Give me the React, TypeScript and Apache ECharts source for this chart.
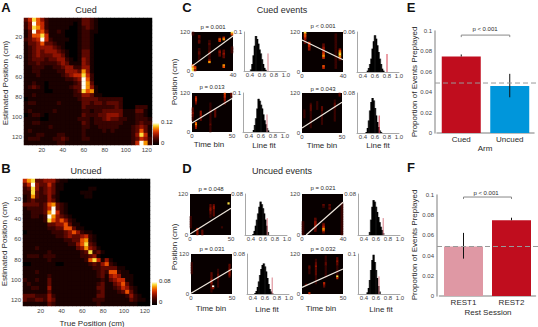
import React, { useEffect, useRef } from "react";
import * as echarts from "echarts";

const FONT = '"Liberation Sans", Arial, sans-serif';
const HOT = ["#000000", "#1a0100", "#380300", "#5e0800", "#901200", "#c22600", "#e84e00", "#f59000", "#fbdc40", "#fffff0"];

// heatmap rows: one digit (0..9 of the colour scale) per 4 cm bin
const binLabels = ["4","8","12","16","20","24","28","32","36","40","44","48","52","56","60","64","68","72","76","80","84","88","92","96","100","104","108","112","116","120","124"];
const rowLabels = [...binLabels, "128"];

const cuedMatrix = [
  "3586421111111133210000000000000",
  "2496521111110133210000000000000",
  "2487521111100123210000000000000",
  "1395631121000122110000000000000",
  "1366851111000122100000000000000",
  "2345952111100122100000000000000",
  "1334633211000122100000000000000",
  "1234444321000122100000000000000",
  "1234344432100133100000000000000",
  "1234333443100133100000000000000",
  "1233323344210143100000000000000",
  "1223222234311143100000000000000",
  "1122211223442244100000000000000",
  "1122111122444374100000000000000",
  "1112111112345585200000000000000",
  "1111111111223496200000000000000",
  "1121101111112397300000000000000",
  "1232101111123397410000000000000",
  "1111100111112386710000000000000",
  "1121111111112244311000000000000",
  "0111111111111233332222220000000",
  "1221111121111133233233320000000",
  "1111111111111132222222320002220",
  "1211111211111122122333331113310",
  "0122101111111132223344431112210",
  "1111001111111222122343322112221",
  "1122111111111132122222221112322",
  "1111112111111122112222211123431",
  "1211111111111121111212111123631",
  "1112211122111121111111111124851",
  "1222111223211122111111111123542",
  "1111111122111111111111111125972",
];

const uncuedMatrix = [
  "5783344421100000000000000000000",
  "3594335311000000000000000000000",
  "2384234311000000110000000000000",
  "2283234310000011100000000000000",
  "1273224210000001100000000000000",
  "1232224310000000000000000000000",
  "3333236732100000000000000000000",
  "1222235932100000000000000000000",
  "1122237952100000000000000000000",
  "1122129743210000000000000000000",
  "1111128646421000000000000000000",
  "1111113344631100000000000000000",
  "1111112233663110000000000000000",
  "0111111222346421100000000000000",
  "1111111122343345210000000000000",
  "1111111111223367210000000000000",
  "1111111111122468320000000000000",
  "1112111111111347431000000000000",
  "1111112111111123823100000000000",
  "1222122211111122341000000000000",
  "1111112111111112685141000000000",
  "0011111100111111232462100000000",
  "1111111111111111122333311000000",
  "1112111111111111112326621100000",
  "1111112111111111112314541110000",
  "2112113111111111111213455110000",
  "1211113111111111112311346310000",
  "1122114111111111113311235421000",
  "1111113111111111112311123631000",
  "3332224211111111113311111242100",
  "3223324311111111122211111132110",
  "1111113211111111112111111111000",
];

// raster panels: [time-bin column, first row from the top, one digit per row]
type Streak = [number, number, string];
const rasterC1: Streak[] = [[0,0,"22"],[0,20,"6788"],[1,21,"564"],[3,2,"33233"],[3,10,"22332222"],[8,5,"2232222332224"],[8,18,"7"],[13,3,"265"],[13,11,"3433"],[15,3,"57"],[15,11,"33433"],[15,20,"76"],[19,0,"86"],[19,9,"2222"]];
const rasterC2: Streak[] = [[0,9,"33343322"],[2,2,"45543"],[2,18,"6754"],[5,11,"444333"],[11,6,"222223222222232222"],[14,10,"33333"],[20,0,"6554433"],[24,0,"332"]];
const rasterC3: Streak[] = [[1,0,"8665433"],[3,6,"55544"],[10,7,"334445675"],[10,20,"65"],[16,1,"222222222222222222222"],[18,10,"4678763"]];
const rasterC4: Streak[] = [[1,10,"22222"],[5,6,"233332222222222"],[9,5,"22222"],[12,8,"33322222222"],[20,4,"2233322222222"],[23,0,"33"]];
const rasterD1: Streak[] = [[0,13,"2222222"],[4,20,"5444"],[7,21,"333"],[12,6,"33443322"],[14,6,"3443333"],[19,19,"2"],[23,5,"8"]];
const rasterD2: Streak[] = [[0,5,"2222222"],[12,11,"333344433322"],[13,19,"94"],[16,9,"22233322222"],[23,6,"33344443"]];
const rasterD3: Streak[] = [[0,16,"22222222"],[6,14,"33444433"],[10,6,"32"],[10,17,"345763"],[13,6,"323"],[19,5,"2222222222222222222"]];
const rasterD4: Streak[] = [[2,18,"3"],[4,7,"33222"],[4,23,"5"],[8,3,"223343333322222"],[13,17,"543"],[14,1,"2222332222222"],[21,2,"33433222222"],[21,13,"85"]];

// histogram bins along "Line fit" and the height of each panel's bars
const fitBins = [0.4,0.42,0.44,0.46,0.48,0.5,0.52,0.54,0.56,0.58,0.6,0.62,0.64,0.66,0.68,0.7,0.72,0.74];
const histC1 = [0,.004,.018,.04,.065,.09,.082,.07,.055,.045,.03,.018,.008,.003,0,0,0,0];
const histC2 = [0,0,0,0,.005,.018,.035,.06,.085,.08,.07,.06,.045,.03,.02,.01,.004,0];
const histC3 = [0,0,0,0,.002,.006,.012,.02,.035,.046,.055,.05,.04,.03,.02,.012,.005,.002];
const histC4 = [0,0,0,.002,.01,.025,.045,.062,.07,.065,.05,.035,.022,.012,.005,.002,0,0];
const histD1 = [0,0,.002,.008,.018,.03,.042,.055,.065,.06,.052,.042,.03,.018,.006,0,0,0];
const histD2 = [0,0,.002,.006,.014,.025,.038,.05,.058,.061,.055,.045,.032,.02,.01,.005,.002,0];
const histD3 = [0,0,0,0,0,.006,.03,.055,.068,.065,.055,.045,.035,.025,.016,.01,.004,0];
const histD4 = [0,0,0,.004,.015,.035,.06,.085,.098,.08,.06,.04,.02,.006,0,0,0,0];

const armCategories = ["Cued", "Uncued"];
const armValues = [0.075, 0.046];
const armErrors = [[0.075, 0.077], [0.035, 0.058]];
const sessionCategories = ["REST1", "REST2"];
const sessionValues = [0.049, 0.075];
const sessionErrors = [[0.037, 0.0625], [0.075, 0.0775]];
const chanceLevel = 0.049;

type Rect = { left: number; top: number; width: number; height: number };
type Panel = {
  rect: Rect; bins: number; streaks: Streak[]; fit: [[number, number], [number, number]]; p: string; pAt: [number, number];
  histLeft: number; hist: number[]; yMax: number; red: [number, number]; redColor: string;
};

const panels: Panel[] = [
  { rect: { left: 192, top: 32, width: 41, height: 39 }, bins: 40, streaks: rasterC1, fit: [[0, 15], [40, 108]], p: "p = 0.001", pAt: [213, 27], histLeft: 244, hist: histC1, yMax: 0.1, red: [0.7, 0.045], redColor: "#d9808a" },
  { rect: { left: 192, top: 93, width: 40, height: 39 }, bins: 50, streaks: rasterC2, fit: [[0, 28], [50, 103]], p: "p = 0.013", pAt: [212, 87], histLeft: 243, hist: histC2, yMax: 0.1, red: [0.7, 0.045], redColor: "#d9808a" },
  { rect: { left: 302, top: 32, width: 41, height: 40 }, bins: 40, streaks: rasterC3, fit: [[0, 96], [40, 37]], p: "p < 0.001", pAt: [323, 26], histLeft: 357, hist: histC3, yMax: 0.06, red: [0.8, 0.027], redColor: "#d84050" },
  { rect: { left: 302, top: 93, width: 40, height: 40 }, bins: 50, streaks: rasterC4, fit: [[0, 15], [50, 92]], p: "p = 0.043", pAt: [323, 89], histLeft: 357, hist: histC4, yMax: 0.08, red: [0.67, 0.035], redColor: "#d84050" },
  { rect: { left: 190, top: 194, width: 41, height: 41 }, bins: 50, streaks: rasterD1, fit: [[0, 3], [50, 78]], p: "p = 0.048", pAt: [211, 189], histLeft: 245, hist: histD1, yMax: 0.08, red: [0.67, 0.033], redColor: "#d9808a" },
  { rect: { left: 191, top: 254, width: 41, height: 40 }, bins: 50, streaks: rasterD2, fit: [[0, 2], [50, 75]], p: "p = 0.031", pAt: [212, 249], histLeft: 247, hist: histD2, yMax: 0.08, red: [0.72, 0.033], redColor: "#d9808a" },
  { rect: { left: 302, top: 194, width: 41, height: 41 }, bins: 40, streaks: rasterD3, fit: [[4, 0], [40, 96]], p: "p = 0.021", pAt: [323, 188], histLeft: 358, hist: histD3, yMax: 0.08, red: [0.72, 0.033], redColor: "#d9808a" },
  { rect: { left: 302, top: 254, width: 41, height: 40 }, bins: 50, streaks: rasterD4, fit: [[0, 20], [50, 75]], p: "p = 0.032", pAt: [323, 249], histLeft: 358, hist: histD4, yMax: 0.1, red: [0.65, 0.044], redColor: "#d9808a" },
];

const textColor = "#2a2a2a";
const tickColor = "#444";
const axisGray = "#a8a8a8";

function label(text: string, x: number, y: number, size: number, extra: any = {}) {
  return {
    type: "text", x, y, rotation: extra.rotation ?? 0, silent: true,
    style: { text, fontFamily: FONT, fontSize: size, fontWeight: extra.bold ? "bold" : "normal", fill: extra.fill ?? textColor, align: extra.align ?? "center", verticalAlign: "middle" },
  };
}

function buildOption() {
  const grid: any[] = [];
  const xAxis: any[] = [];
  const yAxis: any[] = [];
  const series: any[] = [];
  const heatmapIndexes: number[] = [];
  const tickStyle = { fontFamily: FONT, fontSize: 6, color: tickColor, margin: 2 };

  const addCell = (rect: Rect, xa: any, ya: any, bg?: string) => {
    const i = grid.length;
    grid.push({ ...rect, show: !!bg, backgroundColor: bg ?? "transparent", borderWidth: 0, containLabel: false });
    xAxis.push({ gridIndex: i, ...xa });
    yAxis.push({ gridIndex: i, ...ya });
    return i;
  };
  const hidden = { show: false };
  const bareLine = { axisLine: { show: false }, axisTick: { show: false }, splitLine: { show: false } };

  // main heatmaps
  const main = (rect: Rect, matrix: string[], xr: [number, number], yr: [number, number]) => {
    const hg = addCell(rect, { type: "category", data: binLabels, ...hidden }, { type: "category", data: rowLabels, inverse: true, ...hidden }, "#000");
    const cells: number[][] = [];
    matrix.forEach((row, r) => row.split("").forEach((d, c) => cells.push([c, r, Number(d)])));
    heatmapIndexes.push(series.length);
    series.push({ type: "heatmap", xAxisIndex: hg, yAxisIndex: hg, data: cells, itemStyle: { borderWidth: 0 }, silent: true });
    const ticks = [20, 40, 60, 80, 100, 120];
    addCell(rect,
      { type: "value", min: xr[0], max: xr[1], ...bareLine, axisLabel: { ...tickStyle, customValues: ticks } },
      { type: "value", min: yr[0], max: yr[1], inverse: true, ...bareLine, axisLabel: { ...tickStyle, customValues: ticks } });
  };
  main({ left: 24, top: 18, width: 128, height: 127 }, cuedMatrix, [3, 125], [1, 128]);
  main({ left: 23, top: 179, width: 127, height: 127 }, uncuedMatrix, [3, 125], [0, 126]);

  // raster + histogram pairs
  panels.forEach((p) => {
    const cols = p.bins / 2;
    const colCats = Array.from({ length: cols }, (_, i) => String(i * 2));
    const rowCats = Array.from({ length: 24 }, (_, i) => String(i * 5));
    const hg = addCell(p.rect, { type: "category", data: colCats, ...hidden }, { type: "category", data: rowCats, inverse: true, ...hidden }, "#080000");
    const cells: number[][] = [];
    p.streaks.forEach(([c, r0, digits]) => digits.split("").forEach((d, k) => cells.push([c, r0 + k, Number(d)])));
    heatmapIndexes.push(series.length);
    series.push({ type: "heatmap", xAxisIndex: hg, yAxisIndex: hg, data: cells, itemStyle: { borderWidth: 0 }, silent: true });

    const vg = addCell(p.rect,
      { type: "value", min: 0, max: p.bins, interval: p.bins, ...bareLine, axisLabel: { ...tickStyle, margin: 1 } },
      { type: "value", min: 0, max: 120, interval: 120, ...bareLine, axisLabel: tickStyle });
    series.push({ type: "line", xAxisIndex: vg, yAxisIndex: vg, data: p.fit, symbol: "none", silent: true, z: 5, lineStyle: { color: "#efe6dc", width: 1.2 } });

    const hRect = { left: p.histLeft, top: p.rect.top, width: 42, height: p.rect.height };
    const halo = addCell(hRect, { type: "value", min: 0.3, max: 1, ...hidden }, { type: "value", min: 0, max: p.yMax, ...hidden });
    series.push({ type: "bar", xAxisIndex: halo, yAxisIndex: halo, barWidth: 2.8, silent: true, z: 1, itemStyle: { color: "#8a8a8a" }, data: fitBins.map((x, i) => [x, p.hist[i]]) });
    const hc = addCell(hRect,
      { type: "value", min: 0.3, max: 1, splitLine: { show: false }, axisTick: { show: false }, axisLine: { lineStyle: { color: axisGray, width: 1 } }, axisLabel: { ...tickStyle, margin: 1, customValues: [0.4, 0.6, 0.8, 1], formatter: (v: number) => v.toFixed(1) } },
      { type: "value", min: 0, max: p.yMax, splitLine: { show: false }, axisTick: { show: false }, axisLine: { show: true, lineStyle: { color: axisGray, width: 1 } }, axisLabel: { ...tickStyle, customValues: [p.yMax] } });
    series.push({ type: "bar", xAxisIndex: hc, yAxisIndex: hc, barWidth: 1.6, silent: true, z: 2, itemStyle: { color: "#000" }, data: fitBins.map((x, i) => [x, p.hist[i]]) });
    series.push({ type: "line", xAxisIndex: hc, yAxisIndex: hc, symbol: "none", silent: true, z: 3, lineStyle: { color: p.redColor, width: 1 }, data: [[p.red[0], 0], [p.red[0], p.red[1]]] });
  });

  // bar panels
  const barPanel = (rect: Rect, cats: string[], vals: number[], colors: string[], errs: number[][], bracket: [number, number], dashLeft: number, yOffset: number) => {
    const g = addCell(rect,
      { type: "category", data: cats, axisTick: { show: false }, axisLine: { lineStyle: { color: axisGray, width: 1.5 } }, axisLabel: { fontFamily: FONT, fontSize: 8, color: textColor, margin: 2 } },
      { type: "value", min: 0, max: 0.1, interval: 0.02, offset: yOffset, splitLine: { show: false }, axisTick: { show: false }, axisLine: { show: true, lineStyle: { color: axisGray, width: 1.5 } }, axisLabel: { ...tickStyle, margin: 3 } });
    series.push({ type: "bar", xAxisIndex: g, yAxisIndex: g, barWidth: 39, silent: true, data: vals.map((v, i) => ({ value: v, itemStyle: { color: colors[i] } })) });
    errs.forEach((e, i) => series.push({ type: "line", xAxisIndex: g, yAxisIndex: g, symbol: "none", silent: true, z: 4, lineStyle: { color: "#111", width: 1 }, data: [[cats[i], e[0]], [cats[i], e[1]]] }));
    series.push({ type: "line", xAxisIndex: g, yAxisIndex: g, symbol: "none", silent: true, z: 4, lineStyle: { color: "#888", width: 1 }, data: [[cats[0], bracket[0]], [cats[0], bracket[1]], [cats[1], bracket[1]], [cats[1], bracket[0]]] });
    const o = addCell({ left: dashLeft, top: rect.top, width: 538 - dashLeft, height: rect.height },
      { type: "value", min: 0, max: 1, ...hidden }, { type: "value", min: 0, max: 0.1, ...hidden });
    series.push({ type: "line", xAxisIndex: o, yAxisIndex: o, symbol: "none", silent: true, z: 6, lineStyle: { color: "#999", width: 1, type: [5, 3] }, data: [[0, chanceLevel], [1, chanceLevel]] });
  };
  barPanel({ left: 437, top: 31, width: 97, height: 102 }, armCategories, armValues, ["#c00d1e", "#0096db"], armErrors, [0.094, 0.096], 435, 2);
  barPanel({ left: 439.5, top: 195, width: 96, height: 101 }, sessionCategories, sessionValues, ["#df98a4", "#c00d1e"], sessionErrors, [0.096, 0.098], 437, 2.5);

  const gradient = () => new echarts.graphic.LinearGradient(0, 1, 0, 0, HOT.map((color, i) => ({ offset: i / (HOT.length - 1), color })));
  const rot = Math.PI / 2;
  const graphic: any[] = [
    { type: "rect", shape: { x: 153, y: 123, width: 6, height: 22 }, style: { fill: gradient() }, silent: true },
    { type: "rect", shape: { x: 152, y: 282, width: 5, height: 23 }, style: { fill: gradient() }, silent: true },
    label("0.12", 161, 122, 6, { align: "left" }), label("0", 161, 143, 6, { align: "left" }),
    label("0.08", 159, 281, 6, { align: "left" }), label("0", 159, 302, 6, { align: "left" }),
    label("A", 6, 7, 13, { bold: true, fill: "#111" }), label("B", 6, 168, 13, { bold: true, fill: "#111" }),
    label("C", 187, 7, 13, { bold: true, fill: "#111" }), label("D", 187, 168, 13, { bold: true, fill: "#111" }),
    label("E", 411, 7, 13, { bold: true, fill: "#111" }), label("F", 411, 167, 13, { bold: true, fill: "#111" }),
    label("Cued", 86, 10, 9), label("Uncued", 86, 171, 9),
    label("Cued events", 282, 10, 9), label("Uncued events", 282, 171, 9),
    label("Estimated Position (cm)", 5, 83, 8, { rotation: rot }),
    label("Estimated Position (cm)", 4, 244, 8, { rotation: rot }),
    label("True Position (cm)", 92, 323, 8),
    label("Position (cm)", 174, 82, 8, { rotation: rot }), label("Position (cm)", 174, 247, 8, { rotation: rot }),
    label("Time bin", 209, 144, 8), label("Time bin", 322, 145, 8), label("Time bin", 211, 308, 8), label("Time bin", 321, 308, 8),
    label("Line fit", 264, 145, 8), label("Line fit", 378, 145, 8), label("Line fit", 267, 309, 8), label("Line fit", 381, 309, 8),
    label("p < 0.001", 485, 29, 6), label("p < 0.001", 486, 193, 6),
    label("Arm", 485, 148, 8), label("Rest Session", 488, 312, 8),
    label("Proportion of Events Preplayed", 414, 82, 8, { rotation: rot }),
    label("Proportion of Events Preplayed", 414, 245, 8, { rotation: rot }),
    ...panels.map((p) => label(p.p, p.pAt[0], p.pAt[1], 6)),
  ];

  return {
    animation: false,
    backgroundColor: "#fff",
    textStyle: { fontFamily: FONT },
    grid, xAxis, yAxis, series, graphic,
    visualMap: { show: false, type: "continuous", min: 0, max: 9, seriesIndex: heatmapIndexes, inRange: { color: HOT } },
  };
}

export default function App() {
  const ref = useRef<HTMLDivElement>(null);
  useEffect(() => {
    const chart = echarts.init(ref.current!, undefined, { renderer: "svg" });
    chart.setOption(buildOption() as any);
    return () => chart.dispose();
  }, []);
  return <div ref={ref} style={{ position: "absolute", left: 0, top: 0, width: 538, height: 327 }} />;
}
